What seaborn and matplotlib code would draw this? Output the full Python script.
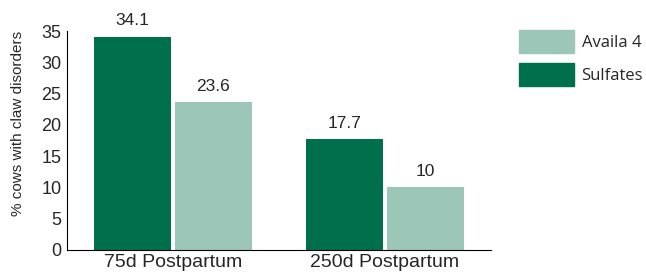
import matplotlib
matplotlib.use("Agg")
import matplotlib.pyplot as plt
import matplotlib.patches as mpatches
import seaborn as sns
import pandas as pd

categories = ["75d Postpartum", "250d Postpartum"]
series_names = ["Sulfates", "Availa 4"]
sulfates = [34.1, 17.7]
availa4 = [23.6, 10]
y_ticks = [0, 5, 10, 15, 20, 25, 30, 35]

colors = {"Sulfates": "#00704c", "Availa 4": "#9cc6b7"}

df = pd.DataFrame({
    "period": categories * 2,
    "group": ["Sulfates"] * len(categories) + ["Availa 4"] * len(categories),
    "value": sulfates + availa4,
})

sns.set_style("white")
plt.rcParams["font.family"] = ["Liberation Sans", "DejaVu Sans"]

fig = plt.figure(figsize=(6.46, 2.75), dpi=100)
ax = fig.add_axes([67/646, 25/275, (491-67)/646, (250-31)/275])

sns.barplot(data=df, x="period", y="value", hue="group", order=categories,
            hue_order=series_names, palette=colors, width=0.76, gap=0.045,
            ax=ax, legend=False, saturation=1, linewidth=0)

for c in ax.containers:
    ax.bar_label(c, fmt="%g", padding=6, fontsize=12.5)

ax.set_ylim(0, 35)
ax.set_xlim(-0.5, 1.5)
ax.set_yticks(y_ticks)
ax.tick_params(axis="y", direction="in", length=7, width=0.8, labelsize=13, pad=4)
ax.set_xticks([-0.5, 0.5, 1.5])
ax.set_xticklabels([])
ax.set_xticks([0, 1], minor=True)
ax.set_xticklabels(categories, minor=True)
ax.tick_params(axis="x", which="major", direction="in", length=5, width=0.8)
ax.tick_params(axis="x", which="minor", length=0, pad=3, labelsize=14)
ax.set_xlabel("")
ax.set_ylabel("% cows with claw disorders", fontsize=11)
ax.yaxis.set_label_coords(-0.10, 0.58)

for s in ["top", "right"]:
    ax.spines[s].set_visible(False)
for s in ["left", "bottom"]:
    ax.spines[s].set_color("black")
    ax.spines[s].set_linewidth(0.8)

handles = [mpatches.Patch(color=colors["Availa 4"], label="Availa 4"),
           mpatches.Patch(color=colors["Sulfates"], label="Sulfates")]
fig.legend(handles=handles, loc="upper left", bbox_to_anchor=(519/646, 1 - 30/275),
           frameon=False, borderpad=0, borderaxespad=0,
           handlelength=3.3, handleheight=1.75,
           handletextpad=0.45, labelspacing=0.6,
           prop={"family": ["Open Sans", "DejaVu Sans"], "size": 12})

fig.savefig("out.png", dpi=100)
